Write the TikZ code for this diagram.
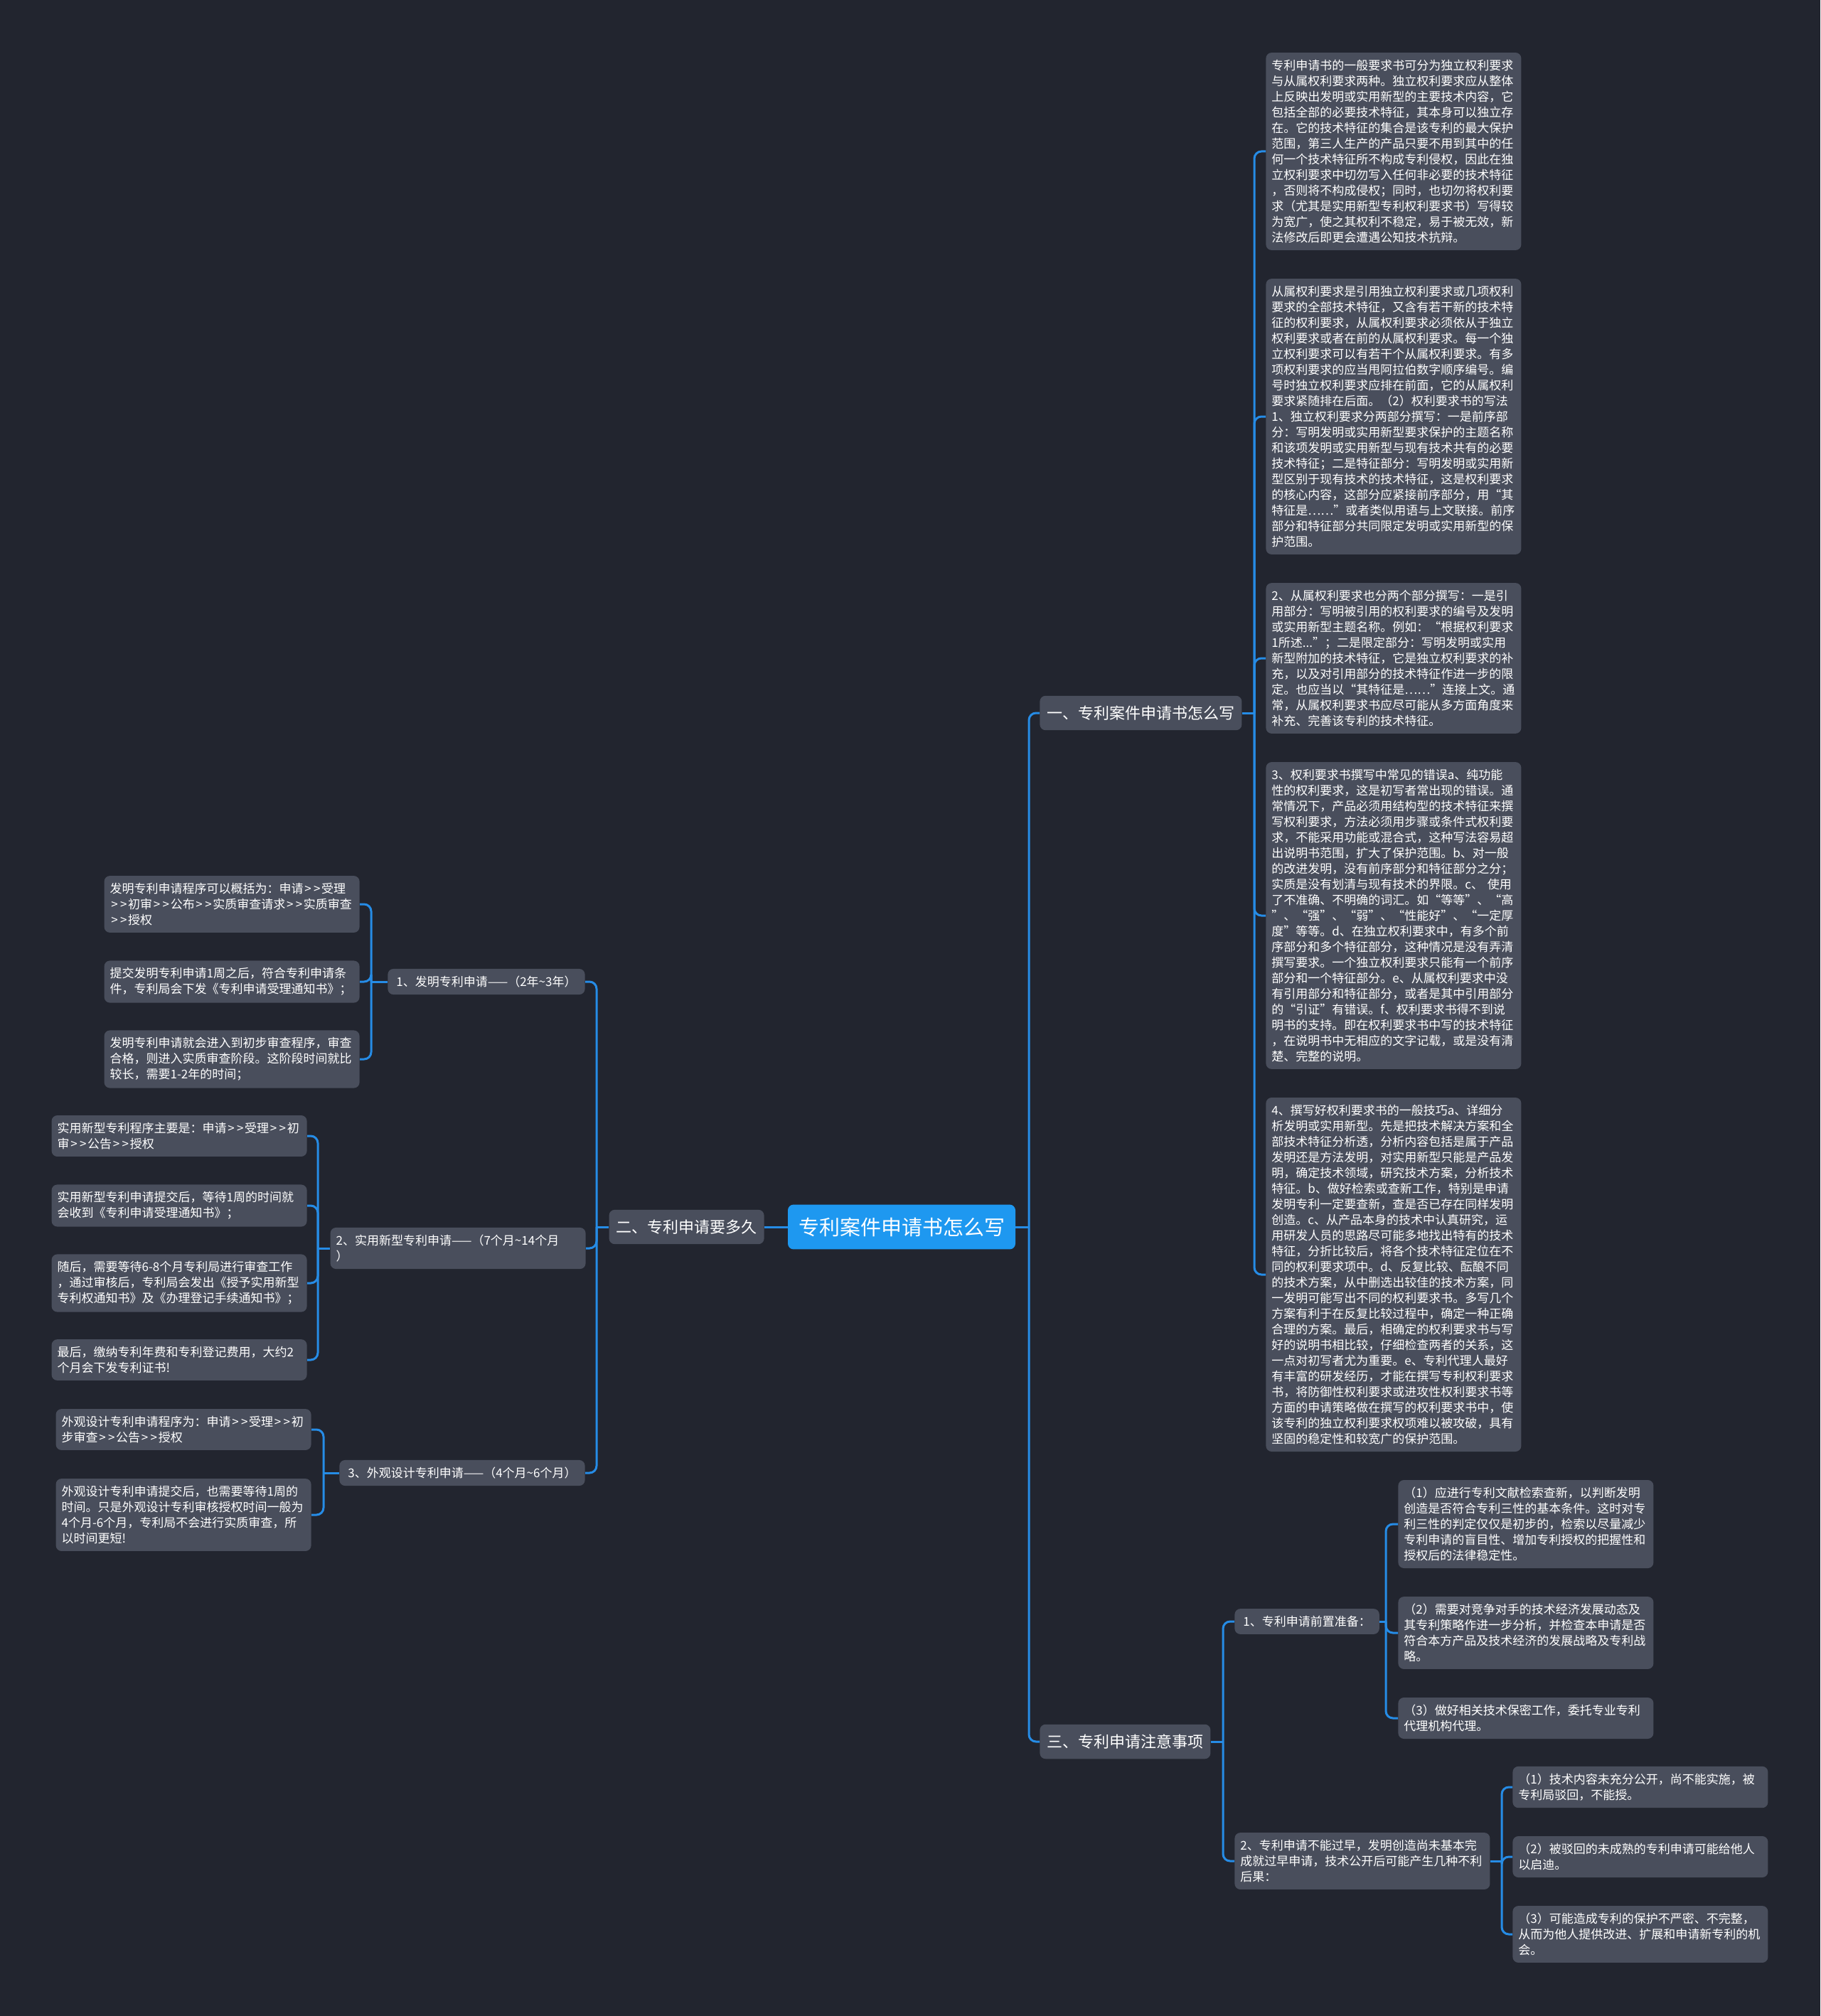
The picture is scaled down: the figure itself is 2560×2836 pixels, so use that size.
\documentclass[tikz,border=0pt]{standalone}
\usepackage{fontspec}
\usepackage{tikz}
\newfontfamily\cjk{Noto Sans CJK SC}
\newcommand\angr{\makebox[6.4pt]{>}}
\definecolor{bgdark}{RGB}{34,37,47}
\definecolor{boxgray}{RGB}{73,78,92}
\definecolor{rootblue}{RGB}{30,152,240}
\definecolor{linkblue}{RGB}{38,140,230}
\begin{document}
\begin{tikzpicture}[x=0.5pt, y=-0.5pt,
    every node/.style={rectangle, rounded corners=4pt, fill=boxgray, text=white, inner xsep=4pt, inner ysep=5pt},
    leaf/.style={align=left, text width=171.5pt, font=\cjk\fontsize{8.5pt}{11pt}\selectfont},
    mid/.style={inner xsep=6pt, font=\cjk\fontsize{8.5pt}{11pt}\selectfont},
    topic/.style={inner xsep=5pt, inner ysep=7pt, font=\cjk\fontsize{11pt}{13pt}\selectfont},
    main/.style={fill=rootblue, inner xsep=7.5pt, inner ysep=9pt, font=\cjk\fontsize{14.5pt}{17pt}\selectfont},
    link/.style={draw=linkblue, line width=1.5pt, rounded corners=5pt}]

    \useasboundingbox (0,0) rectangle (2560,2836);
    \fill[bgdark] (0,0) rectangle (2560,2836);

    \node[main] (root) at (1268,1726) {专利案件申请书怎么写};

    \node[topic, anchor=west] (b1) at (1462,1003) {一、专利案件申请书怎么写};
    \node[topic, anchor=east] (b2) at (1075,1726) {二、专利申请要多久};
    \node[topic, anchor=west] (b3) at (1462,2450) {三、专利申请注意事项};

    \node[leaf, anchor=west] (b1c1) at (1780,213) {专利申请书的一般要求书可分为独立权利要求\\与从属权利要求两种。独立权利要求应从整体\\上反映出发明或实用新型的主要技术内容，它\\包括全部的必要技术特征，其本身可以独立存\\在。它的技术特征的集合是该专利的最大保护\\范围，第三人生产的产品只要不用到其中的任\\何一个技术特征所不构成专利侵权，因此在独\\立权利要求中切勿写入任何非必要的技术特征\\，否则将不构成侵权；同时，也切勿将权利要\\求（尤其是实用新型专利权利要求书）写得较\\为宽广，使之其权利不稳定，易于被无效，新\\法修改后即更会遭遇公知技术抗辩。};
    \node[leaf, anchor=west] (b1c2) at (1780,586) {从属权利要求是引用独立权利要求或几项权利\\要求的全部技术特征，又含有若干新的技术特\\征的权利要求，从属权利要求必须依从于独立\\权利要求或者在前的从属权利要求。每一个独\\立权利要求可以有若干个从属权利要求。有多\\项权利要求的应当甩阿拉伯数字顺序编号。编\\号时独立权利要求应排在前面，它的从属权利\\要求紧随排在后面。（2）权利要求书的写法\\1、独立权利要求分两部分撰写：一是前序部\\分：写明发明或实用新型要求保护的主题名称\\和该项发明或实用新型与现有技术共有的必要\\技术特征；二是特征部分：写明发明或实用新\\型区别于现有技术的技术特征，这是权利要求\\的核心内容，这部分应紧接前序部分，用“其\\特征是……”或者类似用语与上文联接。前序\\部分和特征部分共同限定发明或实用新型的保\\护范围。};
    \node[leaf, anchor=west] (b1c3) at (1780,926) {2、从属权利要求也分两个部分撰写：一是引\\用部分：写明被引用的权利要求的编号及发明\\或实用新型主题名称。例如：“根据权利要求\\1所述...”；二是限定部分：写明发明或实用\\新型附加的技术特征，它是独立权利要求的补\\充，以及对引用部分的技术特征作进一步的限\\定。也应当以“其特征是……”连接上文。通\\常，从属权利要求书应尽可能从多方面角度来\\补充、完善该专利的技术特征。};
    \node[leaf, anchor=west] (b1c4) at (1780,1288) {3、权利要求书撰写中常见的错误a、纯功能\\性的权利要求，这是初写者常出现的错误。通\\常情况下，产品必须用结构型的技术特征来撰\\写权利要求，方法必须用步骤或条件式权利要\\求，不能采用功能或混合式，这种写法容易超\\出说明书范围，扩大了保护范围。b、对一般\\的改进发明，没有前序部分和特征部分之分；\\实质是没有划清与现有技术的界限。c、 使用\\了不准确、不明确的词汇。如“等等”、“高\\”、“强”、“弱”、“性能好”、“一定厚\\度”等等。d、在独立权利要求中，有多个前\\序部分和多个特征部分，这种情况是没有弄清\\撰写要求。一个独立权利要求只能有一个前序\\部分和一个特征部分。e、从属权利要求中没\\有引用部分和特征部分，或者是其中引用部分\\的“引证”有错误。f、权利要求书得不到说\\明书的支持。即在权利要求书中写的技术特征\\，在说明书中无相应的文字记载，或是没有清\\楚、完整的说明。};
    \node[leaf, anchor=west] (b1c5) at (1780,1793) {4、撰写好权利要求书的一般技巧a、详细分\\析发明或实用新型。先是把技术解决方案和全\\部技术特征分析透，分析内容包括是属于产品\\发明还是方法发明，对实用新型只能是产品发\\明，确定技术领域，研究技术方案，分析技术\\特征。b、做好检索或查新工作，特别是申请\\发明专利一定要查新，查是否已存在同样发明\\创造。c、从产品本身的技术中认真研究，运\\用研发人员的思路尽可能多地找出特有的技术\\特征，分折比较后，将各个技术特征定位在不\\同的权利要求项中。d、反复比较、酝酿不同\\的技术方案，从中删选出较佳的技术方案，同\\一发明可能写出不同的权利要求书。多写几个\\方案有利于在反复比较过程中，确定一种正确\\合理的方案。最后，相确定的权利要求书与写\\好的说明书相比较，仔细检查两者的关系，这\\一点对初写者尤为重要。e、专利代理人最好\\有丰富的研发经历，才能在撰写专利权利要求\\书，将防御性权利要求或进攻性权利要求书等\\方面的申请策略做在撰写的权利要求书中，使\\该专利的独立权利要求权项难以被攻破，具有\\坚固的稳定性和较宽广的保护范围。};

    \node[mid, anchor=east] (b2s1) at (823,1381) {1、发明专利申请——（2年\textasciitilde 3年）};
    \node[leaf, anchor=east] (b2s2) at (824,1756) {2、实用新型专利申请——（7个月\textasciitilde 14个月\\）};
    \node[mid, anchor=east] (b2s3) at (823,2072) {3、外观设计专利申请——（4个月\textasciitilde 6个月）};

    \node[leaf, anchor=east] (b2s1c1) at (506,1272) {发明专利申请程序可以概括为：申请\angr\angr 受理\\\angr\angr 初审\angr\angr 公布\angr\angr 实质审查请求\angr\angr 实质审查\\\angr\angr 授权};
    \node[leaf, anchor=east] (b2s1c2) at (506,1381) {提交发明专利申请1周之后，符合专利申请条\\件，专利局会下发《专利申请受理通知书》；};
    \node[leaf, anchor=east] (b2s1c3) at (506,1490) {发明专利申请就会进入到初步审查程序，审查\\合格，则进入实质审查阶段。这阶段时间就比\\较长，需要1-2年的时间；};

    \node[leaf, anchor=east] (b2s2c1) at (432,1598) {实用新型专利程序主要是：申请\angr\angr 受理\angr\angr 初\\审\angr\angr 公告\angr\angr 授权};
    \node[leaf, anchor=east] (b2s2c2) at (432,1696) {实用新型专利申请提交后，等待1周的时间就\\会收到《专利申请受理通知书》；};
    \node[leaf, anchor=east] (b2s2c3) at (432,1805) {随后，需要等待6-8个月专利局进行审查工作\\，通过审核后，专利局会发出《授予实用新型\\专利权通知书》及《办理登记手续通知书》；};
    \node[leaf, anchor=east] (b2s2c4) at (432,1913) {最后，缴纳专利年费和专利登记费用，大约2\\个月会下发专利证书!};

    \node[leaf, anchor=east] (b2s3c1) at (438,2011) {外观设计专利申请程序为：申请\angr\angr 受理\angr\angr 初\\步审查\angr\angr 公告\angr\angr 授权};
    \node[leaf, anchor=east] (b2s3c2) at (438,2131) {外观设计专利申请提交后，也需要等待1周的\\时间。只是外观设计专利审核授权时间一般为\\4个月-6个月，专利局不会进行实质审查，所\\以时间更短!};

    \node[mid, anchor=west] (b3s1) at (1736,2281) {1、专利申请前置准备：};
    \node[leaf, anchor=west] (b3s2) at (1736,2618) {2、专利申请不能过早，发明创造尚未基本完\\成就过早申请，技术公开后可能产生几种不利\\后果：};

    \node[leaf, anchor=west] (b3s1c1) at (1966,2144) {（1）应进行专利文献检索查新，以判断发明\\创造是否符合专利三性的基本条件。这时对专\\利三性的判定仅仅是初步的，检索以尽量减少\\专利申请的盲目性、增加专利授权的把握性和\\授权后的法律稳定性。};
    \node[leaf, anchor=west] (b3s1c2) at (1966,2297) {（2）需要对竞争对手的技术经济发展动态及\\其专利策略作进一步分析，并检查本申请是否\\符合本方产品及技术经济的发展战略及专利战\\略。};
    \node[leaf, anchor=west] (b3s1c3) at (1966,2417) {（3）做好相关技术保密工作，委托专业专利\\代理机构代理。};

    \node[leaf, anchor=west] (b3s2c1) at (2127,2514) {（1）技术内容未充分公开，尚不能实施，被\\专利局驳回，不能授。};
    \node[leaf, anchor=west] (b3s2c2) at (2127,2612) {（2）被驳回的未成熟的专利申请可能给他人\\以启迪。};
    \node[leaf, anchor=west] (b3s2c3) at (2127,2721) {（3）可能造成专利的保护不严密、不完整，\\从而为他人提供改进、扩展和申请新专利的机\\会。};

    \coordinate (j0) at (1447,1726);
    \coordinate (j1) at (1764,1003);
    \coordinate (j2) at (839,1726);
    \coordinate (j21) at (522,1381);
    \coordinate (j22) at (447,1756);
    \coordinate (j23) at (455,2072);
    \coordinate (j3) at (1720,2450);
    \coordinate (j31) at (1949,2281);
    \coordinate (j32) at (2112,2618);

    \draw[link] (root) -- (j0);
    \draw[link] (j0) |- (b1);
    \draw[link] (j0) |- (b3);
    \draw[link] (root) -- (b2);

    \draw[link] (b1) -- (j1);
    \draw[link] (j1) |- (b1c1);
    \draw[link] (j1) |- (b1c2);
    \draw[link] (j1) |- (b1c3);
    \draw[link] (j1) |- (b1c4);
    \draw[link] (j1) |- (b1c5);

    \draw[link] (b2) -- (j2);
    \draw[link] (j2) |- (b2s1);
    \draw[link] (j2) |- (b2s2);
    \draw[link] (j2) |- (b2s3);

    \draw[link] (b2s1) -- (j21);
    \draw[link] (j21) |- (b2s1c1);
    \draw[link] (j21) |- (b2s1c2);
    \draw[link] (j21) |- (b2s1c3);

    \draw[link] (b2s2) -- (j22);
    \draw[link] (j22) |- (b2s2c1);
    \draw[link] (j22) |- (b2s2c2);
    \draw[link] (j22) |- (b2s2c3);
    \draw[link] (j22) |- (b2s2c4);

    \draw[link] (b2s3) -- (j23);
    \draw[link] (j23) |- (b2s3c1);
    \draw[link] (j23) |- (b2s3c2);

    \draw[link] (b3) -- (j3);
    \draw[link] (j3) |- (b3s1);
    \draw[link] (j3) |- (b3s2);

    \draw[link] (b3s1) -- (j31);
    \draw[link] (j31) |- (b3s1c1);
    \draw[link] (j31) |- (b3s1c2);
    \draw[link] (j31) |- (b3s1c3);

    \draw[link] (b3s2) -- (j32);
    \draw[link] (j32) |- (b3s2c1);
    \draw[link] (j32) |- (b3s2c2);
    \draw[link] (j32) |- (b3s2c3);
\end{tikzpicture}
\end{document}
